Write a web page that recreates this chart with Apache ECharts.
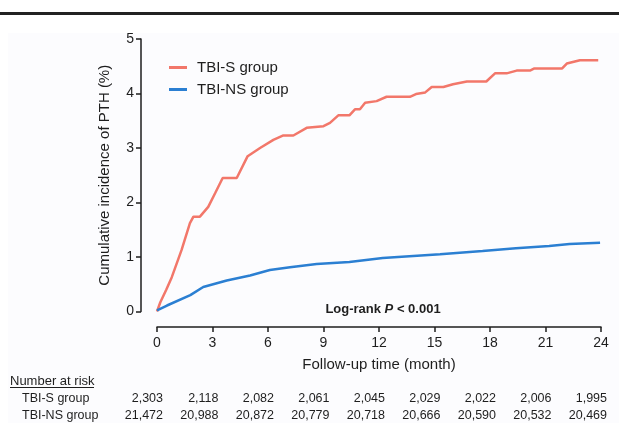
<!DOCTYPE html>
<html>
<head>
<meta charset="UTF-8">
<title>Cumulative incidence of PTH</title>
<script src="https://cdn.jsdelivr.net/npm/echarts@6/dist/echarts.min.js"></script>
<style>
  html, body { margin: 0; padding: 0; background: #fff; }
  #chart { width: 619px; height: 423px; }
</style>
</head>
<body>
<div id="chart"></div>
<script>
// curve values (month, %)
const sTime = [0, 0.18, 0.5, 0.8, 1.33, 1.78, 1.97, 2.32, 2.77, 3.14, 3.55, 4.31, 4.9, 5.57, 6.29, 6.83, 7.37, 8.09, 9.0, 9.35, 9.8, 10.4, 10.7, 10.97, 11.25, 11.87, 12.41, 13.67, 14.0, 14.5, 14.85, 15.48, 16.0, 16.75, 17.8, 18.27, 18.9, 19.44, 20.16, 20.4, 21.9, 22.15, 22.86, 23.85];
const sCum  = [0, 0.17, 0.4, 0.63, 1.13, 1.62, 1.74, 1.74, 1.92, 2.17, 2.45, 2.45, 2.85, 3.0, 3.15, 3.23, 3.23, 3.37, 3.40, 3.46, 3.60, 3.60, 3.71, 3.71, 3.83, 3.86, 3.94, 3.94, 3.99, 4.02, 4.12, 4.12, 4.17, 4.22, 4.22, 4.37, 4.37, 4.42, 4.42, 4.46, 4.46, 4.55, 4.61, 4.61];
const nsTime = [0, 0.54, 1.8, 2.5, 3.77, 5.03, 6.1, 7.19, 8.63, 10.4, 12.2, 15.3, 17.6, 19.4, 21.2, 22.3, 23.95];
const nsCum  = [0.02, 0.11, 0.30, 0.45, 0.57, 0.66, 0.76, 0.81, 0.87, 0.91, 0.98, 1.05, 1.11, 1.16, 1.20, 1.24, 1.26];

// number at risk table
const riskTimes = [0, 3, 6, 9, 12, 15, 18, 21, 24];
const riskS  = ['2,303', '2,118', '2,082', '2,061', '2,045', '2,029', '2,022', '2,006', '1,995'];
const riskNS = ['21,472', '20,988', '20,872', '20,779', '20,718', '20,666', '20,590', '20,532', '20,469'];

const FONT = '"Liberation Sans", Arial, sans-serif';
const RED = '#f2776a';
const BLUE = '#2b7fd2';
const INK = '#1e1e1e';

const chart = echarts.init(document.getElementById('chart'));

const option = {
  animation: false,
  textStyle: { fontFamily: FONT },
  grid: { left: 157, right: 18, top: 39, bottom: 111.5 },
  legend: {
    orient: 'vertical',
    left: 164,
    top: 55,
    icon: 'rect',
    itemWidth: 18,
    itemHeight: 3,
    itemGap: 7,
    textStyle: { fontSize: 15, color: INK, fontFamily: FONT, padding: [0, 0, 0, 5], lineHeight: 15 },
    data: ['TBI-S group', 'TBI-NS group']
  },
  xAxis: {
    type: 'value',
    min: 0, max: 24, interval: 3,
    offset: 15.5,
    name: 'Follow-up time (month)',
    nameLocation: 'middle',
    nameGap: 30,
    nameTextStyle: { fontSize: 15, color: INK, fontFamily: FONT },
    axisLine: { show: true, onZero: false, lineStyle: { color: INK, width: 1.5 } },
    axisTick: { show: true, length: 5, lineStyle: { color: INK, width: 1.5 } },
    axisLabel: { fontSize: 14, color: INK, margin: 9, fontFamily: FONT },
    splitLine: { show: false }
  },
  yAxis: {
    type: 'value',
    min: 0, max: 5, interval: 1,
    offset: 16,
    name: 'Cumulative incidence of PTH (%)',
    nameLocation: 'middle',
    nameGap: 29,
    nameTextStyle: { fontSize: 15, color: INK, fontFamily: FONT },
    axisLine: { show: true, onZero: false, lineStyle: { color: INK, width: 1.5 } },
    axisTick: { show: true, length: 5, lineStyle: { color: INK, width: 1.5 } },
    axisLabel: { fontSize: 14, color: INK, margin: 7, fontFamily: FONT },
    splitLine: { show: false }
  },
  series: [
    {
      name: 'TBI-S group',
      type: 'line',
      showSymbol: false,
      color: RED,
      lineStyle: { width: 2.5, color: RED },
      data: sTime.map((t, i) => [t, sCum[i]])
    },
    {
      name: 'TBI-NS group',
      type: 'line',
      showSymbol: false,
      color: BLUE,
      lineStyle: { width: 2.5, color: BLUE },
      data: nsTime.map((t, i) => [t, nsCum[i]])
    }
  ]
};

chart.setOption(option);

// extra texts: top rule, log-rank note, number-at-risk table
const gfx = [
  { type: 'rect', silent: true, z: -1, shape: { x: 8, y: 33, width: 611, height: 390 }, style: { fill: '#fcfcfe' } },
  { type: 'rect', silent: true, shape: { x: 0, y: 12, width: 619, height: 3 }, style: { fill: '#222' } },
  {
    type: 'text', x: 383, y: 309,
    style: {
      text: '{b|Log-rank }{i|P}{b| < 0.001}',
      align: 'center', verticalAlign: 'middle',
      rich: {
        b: { fontSize: 13, fontWeight: 'bold', fill: INK, fontFamily: FONT },
        i: { fontSize: 13, fontWeight: 'bold', fontStyle: 'italic', fill: INK, fontFamily: FONT }
      }
    }
  },
  {
    type: 'text', x: 10, y: 381,
    style: { text: 'Number at risk', fontSize: 13, fill: INK, fontFamily: FONT, verticalAlign: 'middle' }
  },
  { type: 'rect', silent: true, shape: { x: 10, y: 387, width: 84, height: 1 }, style: { fill: INK } },
  {
    type: 'text', x: 22, y: 399,
    style: { text: 'TBI-S group', fontSize: 12.5, fill: INK, fontFamily: FONT, verticalAlign: 'middle' }
  },
  {
    type: 'text', x: 22, y: 416,
    style: { text: 'TBI-NS group', fontSize: 12.5, fill: INK, fontFamily: FONT, verticalAlign: 'middle' }
  }
];

riskTimes.forEach((t, i) => {
  const px = chart.convertToPixel({ xAxisIndex: 0 }, t) + 6;
  gfx.push({
    type: 'text', x: px, y: 399,
    style: { text: riskS[i], fontSize: 12.5, fill: INK, fontFamily: FONT, align: 'right', verticalAlign: 'middle' }
  });
  gfx.push({
    type: 'text', x: px, y: 416,
    style: { text: riskNS[i], fontSize: 12.5, fill: INK, fontFamily: FONT, align: 'right', verticalAlign: 'middle' }
  });
});

chart.setOption({ graphic: gfx });
</script>
</body>
</html>
